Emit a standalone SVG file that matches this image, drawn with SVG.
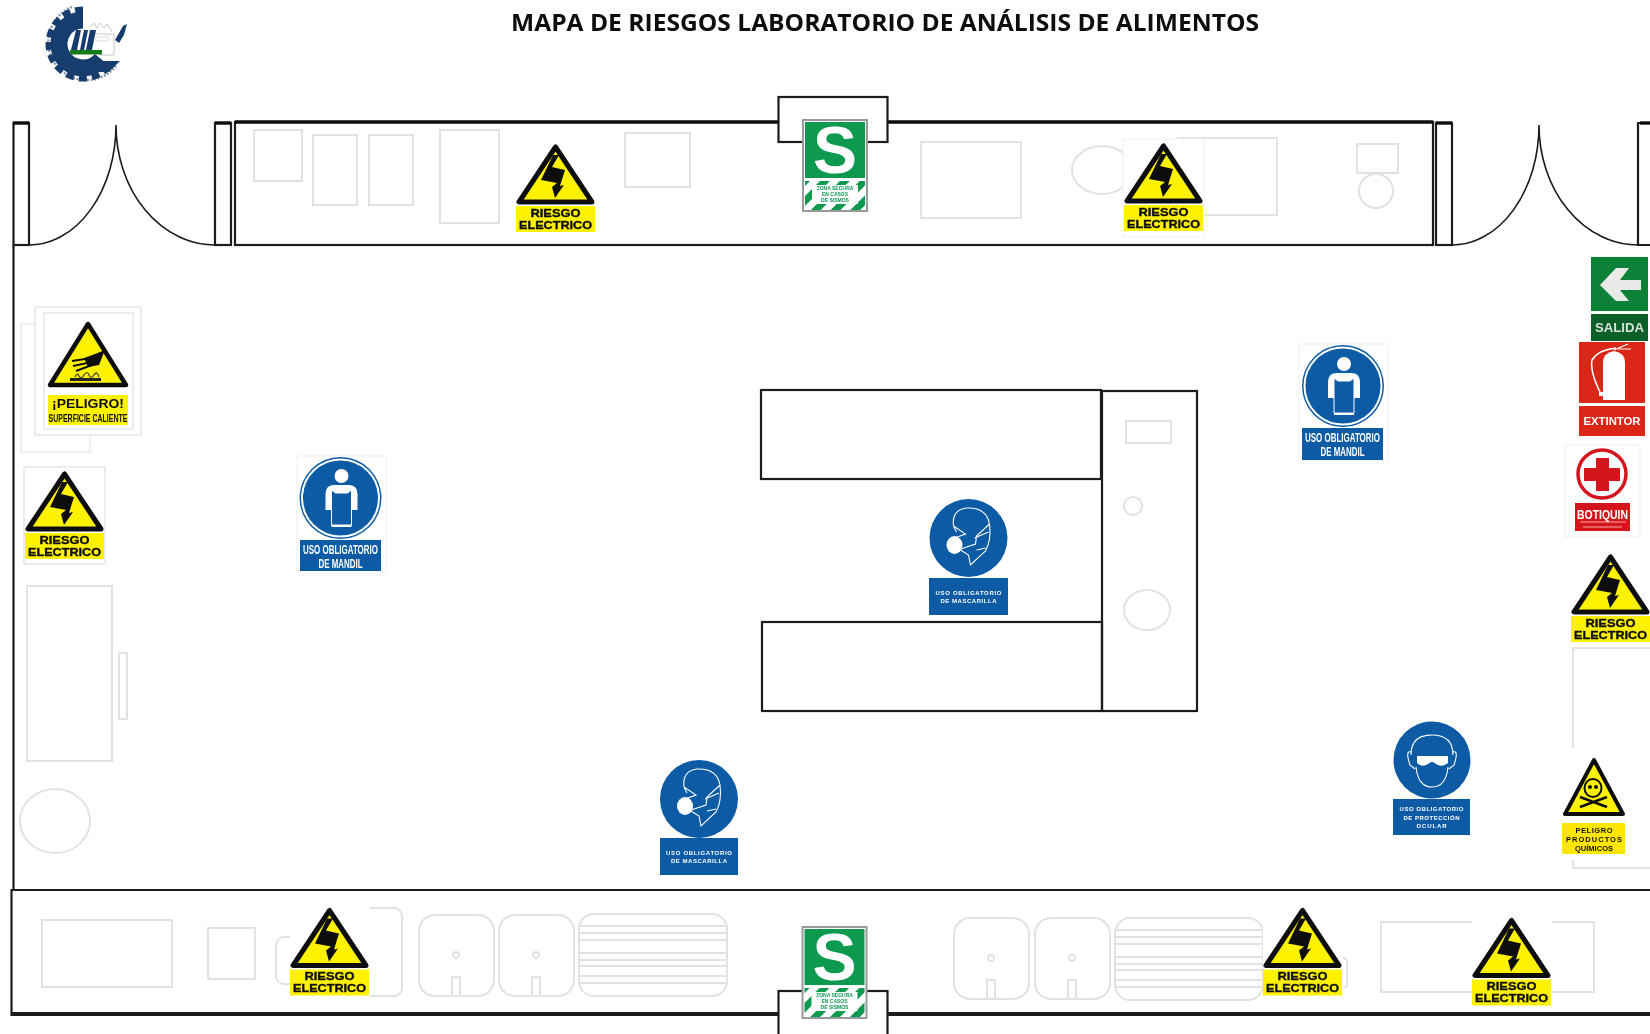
<svg xmlns="http://www.w3.org/2000/svg" width="1650" height="1034" viewBox="0 0 1650 1034">
<style>
.f{fill:none;stroke:#e2e2e2;stroke-width:2}
.w{fill:none;stroke:#1c1c1c;stroke-width:2.2}
.wt{fill:none;stroke:#111;stroke-width:3.4}
.wf{fill:#fff;stroke:#1c1c1c;stroke-width:2.2}
.sl{font-family:"Liberation Sans",Arial,sans-serif;font-weight:700;text-anchor:middle;fill:#111}
.r{font-size:10.5px;stroke:#111;stroke-width:.35}
.wl{font-family:"Liberation Sans",Arial,sans-serif;font-weight:700;text-anchor:middle;fill:#fff}
.gl{font-family:"Liberation Sans",Arial,sans-serif;font-weight:700;font-size:5px;text-anchor:middle;fill:#0a9a50}
.bx{fill:#fff;stroke:#f0f0f0;stroke-width:1}
.bg{fill:#fff;stroke:#e6e6e6;stroke-width:1.5}
.y{fill:#fff200}
.bl{fill:#0b5aa5}
.ol{fill:none;stroke:#fff;stroke-width:1.1}
</style>
<defs>
<filter id="soft" x="0" y="0" width="1" height="1"><feGaussianBlur stdDeviation="0.45"/></filter>
<g id="elec">
<polygon points="39.5,7 3,62 76,62" fill="#fff200" stroke="#111" stroke-width="5" stroke-linejoin="round"/>
<path d="M37 15L25 40L41 43L36 47L39 58L48 45L44 46L49 30L36 27L43 15Z" fill="#111"/>
<rect class="y" x="0" y="66" width="79" height="26"/>
</g>
<g id="aa">
<rect class="f" x="0" y="0" width="75" height="81" rx="16"/>
<circle class="f" cx="37" cy="40" r="3"/>
<rect class="f" x="33" y="62" width="8" height="19"/>
</g>
<g id="grill">
<rect class="f" x="0" y="0" width="148" height="82" rx="15"/>
<path class="f" d="M0 12H148M0 19H148M0 26H148M0 39H148M0 46H148M0 52H148M0 62H148M0 69H148"/>
</g>
<g id="mandil">
<circle r="41" class="bl"/>
<circle r="38.5" fill="none" stroke="#fff" stroke-width="2"/>
<circle cx="1" cy="-22" r="7" fill="#fff"/>
<path d="M-15 12V-4Q-15 -13 -6 -13H8Q17 -13 17 -4V12H11V29H-9V12Z" fill="#fff"/>
<path d="M-9 -8L-9 27H11L11 -8L7 -5H-5Z" class="bl" stroke="#fff"/>
</g>
<g id="mask">
<circle r="39" class="bl"/>
<path class="ol" d="M-15 -12Q-17 -28 -2 -30Q18 -31 21 -14Q23 2 17 13L2 27L0 17L-8 12M-15 -12L-3 -4L-14 0M-15 -12L-12 -6M21 -14L8 -2L7 6L-8 11M20 -6L6 0M17 10L8 12"/>
<ellipse cx="-14" cy="7" rx="8" ry="9" fill="#fff"/>
</g>
<pattern id="st" width="14" height="14" patternUnits="userSpaceOnUse" patternTransform="rotate(45)">
<rect width="14" height="14" fill="#fff"/><rect width="7" height="14" fill="#0a9a50"/>
</pattern>
<g id="sfg">
<rect x="-32" y="-46" width="64" height="91" fill="#fff" stroke="#999" stroke-width="2"/>
<rect x="-30" y="-44" width="60" height="56" fill="#0a9a50"/>
<text x="0" y="7" font-family="Liberation Sans,Arial,sans-serif" font-weight="700" font-size="66" text-anchor="middle" fill="#fff">S</text>
<rect x="-30" y="15" width="60" height="29" fill="url(#st)"/>
<rect x="-23" y="19" width="46" height="19" fill="#fff"/>
</g>
</defs>
<g filter="url(#soft)">
<rect width="1650" height="1034" fill="#fff"/>
<g id="furniture">
<rect class="f" x="254" y="130" width="48" height="51"/>
<rect class="f" x="313" y="135" width="44" height="70"/>
<rect class="f" x="369" y="135" width="44" height="70"/>
<rect class="f" x="440" y="130" width="59" height="93"/>
<rect class="f" x="625" y="133" width="65" height="54"/>
<rect class="f" x="921" y="142" width="100" height="76"/>
<ellipse class="f" cx="1102" cy="170" rx="30" ry="24"/>
<rect class="f" x="1178" y="138" width="99" height="77"/>
<rect class="f" x="1357" y="144" width="41" height="29"/>
<circle class="f" cx="1376" cy="191" r="17"/>
<rect class="f" style="stroke:#efefef" x="21" y="324" width="69" height="128"/>
<rect class="f" x="27" y="586" width="85" height="175"/>
<rect class="f" x="119" y="653" width="8" height="66"/>
<ellipse class="f" cx="55" cy="821" rx="35" ry="32"/>
<rect class="f" x="1126" y="421" width="45" height="22"/>
<circle class="f" cx="1133" cy="506" r="9"/>
<ellipse class="f" cx="1147" cy="610" rx="23" ry="20"/>
<rect class="f" x="1573" y="648" width="78" height="220"/>
<rect class="f" x="42" y="920" width="130" height="67"/>
<rect class="f" x="208" y="928" width="47" height="51"/>
<rect class="f" x="276" y="937" width="60" height="47" rx="8"/>
<rect class="f" x="330" y="908" width="72" height="88" rx="8"/>
<use href="#aa" x="419" y="915"/>
<use href="#aa" x="499" y="915"/>
<use href="#grill" x="579" y="914"/>
<use href="#aa" x="954" y="918"/>
<use href="#aa" x="1035" y="918"/>
<use href="#grill" x="1115" y="918"/>
<rect class="f" x="1290" y="958" width="57" height="30" rx="4"/>
<rect class="f" x="1381" y="922" width="213" height="70"/>
</g>
<g id="walls">
<rect class="w" x="235" y="122" width="1198" height="123"/>
<path class="wt" d="M235 122H1433"/>
<path class="w" d="M13.5 245V890"/>
<rect class="w" x="13.5" y="123" width="15.5" height="122"/>
<path class="wt" d="M13 123H29"/>
<rect class="w" x="215" y="123" width="16" height="122"/>
<path class="wt" d="M215 123H231"/>
<rect class="w" x="1436" y="123" width="16" height="122"/>
<path class="wt" d="M1436 123H1452"/>
<path class="w" d="M1650 123H1638V245H1650"/>
<path class="wt" d="M1640 123H1650"/>
<path class="w" style="stroke-width:1.6" d="M29 245A87 120 0 0 0 116 125A99 120 0 0 0 215 245"/>
<path class="w" style="stroke-width:1.6" d="M1452 245A87 120 0 0 0 1539 125A99 120 0 0 0 1638 245"/>
<rect class="wf" x="778.5" y="97" width="109" height="45"/>
<path class="w" d="M1650 890H11.5V1015H1650"/>
<path class="w" d="M11.5 1013H1650"/>
<rect class="wf" x="778.5" y="991" width="109" height="50"/>
<g id="tables">
<rect class="w" x="761" y="390" width="340" height="89"/>
<rect class="w" x="762" y="622" width="340" height="89"/>
<rect class="w" x="1102" y="391" width="95" height="320"/>
</g>
</g>
<text id="title" x="885" y="31" font-family="Open Sans,Liberation Sans,sans-serif" font-weight="700" font-size="24" text-anchor="middle" textLength="748" lengthAdjust="spacingAndGlyphs" fill="#111">MAPA DE RIESGOS LABORATORIO DE ANÁLISIS DE ALIMENTOS</text>
<g id="logo">
<path d="M72 7A38 38 0 1 0 116 66" fill="none" stroke="#8b98ad" stroke-width="2.5" stroke-dasharray="2 1.5"/>
<path d="M83 20A24 24 0 1 0 101.4 59.4" fill="none" stroke="#173c6e" stroke-width="17"/>
<path d="M83 9.5A34.5 34.5 0 1 0 109.4 66.2" fill="none" stroke="#173c6e" stroke-width="6" stroke-dasharray="8 5"/>
<path d="M98 61H120L109 72L96 72Z" fill="#173c6e"/>
<path d="M90 27L94 23L97 28L100 23L104 28L107 24L112 32M95 34H114V55H100" fill="none" stroke="#c8c8c8"/>
<rect x="96" y="37" width="12" height="4" fill="none" stroke="#ddd"/>
<path d="M76 30H81L77 50H71ZM84 30H88L84 50H80ZM90 30H96L92 50H86Z" fill="#173c6e"/>
<rect x="70" y="50" width="32" height="4.5" fill="#197a16"/>
<path d="M115 40L123 26L127 24L124 35L119 43Z" fill="#173c6e"/>
</g>
<g id="sign-superficie">
<rect class="bg" x="35" y="307" width="106" height="128"/>
<rect class="bg" x="44" y="313" width="89" height="116"/>
<polygon points="88,324 50,385 126,385" fill="#fff200" stroke="#111" stroke-width="4.5" stroke-linejoin="round"/>
<path d="M105 350L99 365L88 367L84 358L95 354Z" fill="#111"/>
<path d="M92 358L72 361M92 362L73 366M92 365L76 371" stroke="#111" stroke-width="2" fill="none"/>
<path d="M75 377Q77 372 79 376T84 375T89 375T94 375T99 377" stroke="#333" stroke-width="1.2" fill="none"/>
<rect x="70" y="378" width="31" height="3" fill="#222"/>
<rect class="y" x="48" y="395" width="80" height="30"/>
<text class="sl" x="88" y="408" font-size="13" textLength="72" lengthAdjust="spacingAndGlyphs">¡PELIGRO!</text>
<text class="sl" x="88" y="422" font-size="10" textLength="79" lengthAdjust="spacingAndGlyphs">SUPERFICIE CALIENTE</text>
</g>
<g id="sign-electrico-izq" transform="translate(24,467)">
<rect class="bg" width="81" height="97"/>
<use href="#elec" x="1"/>
<text class="sl r" x="40.5" y="76.5" textLength="50" lengthAdjust="spacingAndGlyphs">RIESGO</text>
<text class="sl r" x="40.5" y="88.5" textLength="73" lengthAdjust="spacingAndGlyphs">ELECTRICO</text>
</g>
<g id="sign-electrico-1" transform="translate(516,140)">
<use href="#elec"/>
<text class="sl r" x="39.5" y="76.5" textLength="50" lengthAdjust="spacingAndGlyphs">RIESGO</text>
<text class="sl r" x="39.5" y="88.5" textLength="73" lengthAdjust="spacingAndGlyphs">ELECTRICO</text>
</g>
<g id="sign-electrico-2" transform="translate(1123,139)">
<rect class="bx" width="81" height="98"/>
<use href="#elec" x="1"/>
<text class="sl r" x="40.5" y="76.5" textLength="50" lengthAdjust="spacingAndGlyphs">RIESGO</text>
<text class="sl r" x="40.5" y="88.5" textLength="73" lengthAdjust="spacingAndGlyphs">ELECTRICO</text>
</g>
<g id="sign-electrico-der" transform="translate(1571,550)">
<use href="#elec"/>
<text class="sl r" x="39.5" y="76.5" textLength="50" lengthAdjust="spacingAndGlyphs">RIESGO</text>
<text class="sl r" x="39.5" y="88.5" textLength="73" lengthAdjust="spacingAndGlyphs">ELECTRICO</text>
</g>
<g id="sign-electrico-3" transform="translate(290,903.5)">
<rect class="bx" width="80" height="96" style="stroke:none"/>
<use href="#elec"/>
<text class="sl r" x="39.5" y="76.5" textLength="50" lengthAdjust="spacingAndGlyphs">RIESGO</text>
<text class="sl r" x="39.5" y="88.5" textLength="73" lengthAdjust="spacingAndGlyphs">ELECTRICO</text>
</g>
<g id="sign-electrico-4" transform="translate(1263,903.5)">
<rect class="bx" width="80" height="96" style="stroke:none"/>
<use href="#elec"/>
<text class="sl r" x="39.5" y="76.5" textLength="50" lengthAdjust="spacingAndGlyphs">RIESGO</text>
<text class="sl r" x="39.5" y="88.5" textLength="73" lengthAdjust="spacingAndGlyphs">ELECTRICO</text>
</g>
<g id="sign-electrico-5" transform="translate(1472,913.5)">
<rect class="bx" width="80" height="94" style="stroke:none"/>
<use href="#elec"/>
<text class="sl r" x="39.5" y="76.5" textLength="50" lengthAdjust="spacingAndGlyphs">RIESGO</text>
<text class="sl r" x="39.5" y="88.5" textLength="73" lengthAdjust="spacingAndGlyphs">ELECTRICO</text>
</g>
<g id="sign-seguro-1" transform="translate(835,166)">
<use href="#sfg"/>
<text class="gl" x="0" y="24">ZONA SEGURA</text>
<text class="gl" x="0" y="30">EN CASOS</text>
<text class="gl" x="0" y="36">DE SISMOS</text>
</g>
<g id="sign-seguro-2" transform="translate(834.5,973)">
<use href="#sfg"/>
<text class="gl" x="0" y="24">ZONA SEGURA</text>
<text class="gl" x="0" y="30">EN CASOS</text>
<text class="gl" x="0" y="36">DE SISMOS</text>
</g>
<g id="sign-mandil-1">
<rect class="bx" x="297" y="456" width="89" height="119"/>
<use href="#mandil" x="340.5" y="498"/>
<rect class="bl" x="300" y="540" width="81" height="31"/>
<text class="wl" x="340.5" y="554" font-size="12" textLength="75" lengthAdjust="spacingAndGlyphs">USO OBLIGATORIO</text>
<text class="wl" x="340.5" y="568" font-size="12" textLength="44" lengthAdjust="spacingAndGlyphs">DE MANDIL</text>
</g>
<g id="sign-mandil-2">
<rect class="bx" x="1299" y="344" width="89" height="119"/>
<use href="#mandil" x="1343" y="386"/>
<rect class="bl" x="1302" y="428" width="81" height="32"/>
<text class="wl" x="1342.5" y="442" font-size="12" textLength="75" lengthAdjust="spacingAndGlyphs">USO OBLIGATORIO</text>
<text class="wl" x="1342.5" y="456" font-size="12" textLength="44" lengthAdjust="spacingAndGlyphs">DE MANDIL</text>
</g>
<g id="sign-mascarilla-1">
<use href="#mask" x="968.5" y="538"/>
<rect class="bl" x="929" y="578" width="79" height="37"/>
<text class="wl" x="968.5" y="595" font-size="6" textLength="66" lengthAdjust="spacing">USO OBLIGATORIO</text>
<text class="wl" x="968.5" y="603" font-size="6" textLength="56" lengthAdjust="spacing">DE MASCARILLA</text>
</g>
<g id="sign-mascarilla-2">
<use href="#mask" x="699" y="799"/>
<rect class="bl" x="660" y="838" width="78" height="37"/>
<text class="wl" x="699" y="855" font-size="6" textLength="66" lengthAdjust="spacing">USO OBLIGATORIO</text>
<text class="wl" x="699" y="863" font-size="6" textLength="56" lengthAdjust="spacing">DE MASCARILLA</text>
</g>
<g id="sign-ocular">
<circle class="bl" cx="1432" cy="760" r="38.5"/>
<path class="ol" d="M1411 755Q1411 735 1432 735Q1453 735 1453 755M1416 767Q1418 787 1432 787Q1446 787 1448 767M1411 752Q1405 750 1410 765L1415 769M1453 752Q1459 750 1454 765L1449 769"/>
<path d="M1417 756H1448V763Q1442 768 1436 764Q1432 760 1428 764Q1422 768 1417 763Z" fill="#fff"/>
<rect class="bl" x="1393" y="799" width="77" height="36"/>
<text class="wl" x="1431.5" y="811" font-size="6" textLength="64" lengthAdjust="spacing">USO OBLIGATORIO</text>
<text class="wl" x="1431.5" y="820" font-size="6" textLength="56" lengthAdjust="spacing">DE PROTECCIÓN</text>
<text class="wl" x="1431.5" y="828" font-size="6" textLength="30" lengthAdjust="spacing">OCULAR</text>
</g>
<g id="sign-quimicos">
<rect x="1558" y="748" width="72" height="112" fill="#fff"/>
<polygon points="1594,760 1565,814 1623,814" fill="#fff200" stroke="#111" stroke-width="4" stroke-linejoin="round"/>
<path d="M1580 797L1607 807M1607 797L1580 807" stroke="#111" stroke-width="2.5"/>
<ellipse cx="1593" cy="788" rx="8.5" ry="9" fill="#fff200" stroke="#111" stroke-width="2"/>
<circle cx="1590" cy="787" r="2" fill="#111"/><circle cx="1596" cy="787" r="2" fill="#111"/>
<rect x="1562" y="823" width="63" height="31" fill="#ffe600"/>
<text class="sl" x="1594" y="833" font-size="7.5" textLength="37" lengthAdjust="spacing">PELIGRO</text>
<text class="sl" x="1594" y="842" font-size="7.5" textLength="56" lengthAdjust="spacing">PRODUCTOS</text>
<text class="sl" x="1594" y="851" font-size="7.5" textLength="38" lengthAdjust="spacing">QUÍMICOS</text>
</g>
<g id="sign-salida">
<rect x="1591" y="257" width="57" height="54" fill="#0d8138"/>
<path d="M1600 285L1616 268H1629L1620 280H1641V290H1620L1629 301H1616Z" fill="#e8ebe8"/>
<rect x="1591" y="314" width="57" height="27" fill="#0a5f2c"/>
<text x="1619.5" y="332" font-family="Liberation Sans,Arial,sans-serif" font-weight="700" font-size="12.5" text-anchor="middle" textLength="49" lengthAdjust="spacingAndGlyphs" fill="#d9e2da">SALIDA</text>
</g>
<g id="sign-extintor">
<rect x="1579" y="342" width="66" height="61" fill="#d92718"/>
<path d="M1603 400V362Q1603 353 1614 351Q1625 353 1625 362V400Z" fill="#fff"/>
<path d="M1600 392Q1590 372 1592 360Q1598 350 1616 348" fill="none" stroke="#fff" stroke-width="1.5"/>
<path d="M1614 350L1628 344M1618 349L1631 349" stroke="#fff" stroke-width="1.2"/>
<rect x="1599" y="392" width="5" height="4" fill="#fff"/>
<rect x="1579" y="406" width="66" height="30" fill="#d92718"/>
<text x="1612" y="425" font-family="Liberation Sans,Arial,sans-serif" font-weight="700" font-size="10.5" text-anchor="middle" textLength="57" lengthAdjust="spacingAndGlyphs" fill="#fff">EXTINTOR</text>
</g>
<g id="sign-botiquin">
<rect class="bx" x="1565" y="445" width="75" height="92"/>
<circle cx="1602" cy="474" r="24" fill="#fff" stroke="#d4161f" stroke-width="3.5"/>
<path d="M1596 458H1609V468H1620V481H1609V491H1596V481H1584V468H1596Z" fill="#d4161f"/>
<rect x="1575" y="503" width="55" height="28" fill="#d4161f"/>
<text x="1602.5" y="519" font-family="Liberation Sans,Arial,sans-serif" font-weight="700" font-size="12" text-anchor="middle" textLength="51" lengthAdjust="spacingAndGlyphs" fill="#fff">BOTIQUIN</text>
<path d="M1580 522H1626M1583 527H1622" stroke="#f5a8a8" stroke-width="1"/>
</g>
</g>
</svg>
